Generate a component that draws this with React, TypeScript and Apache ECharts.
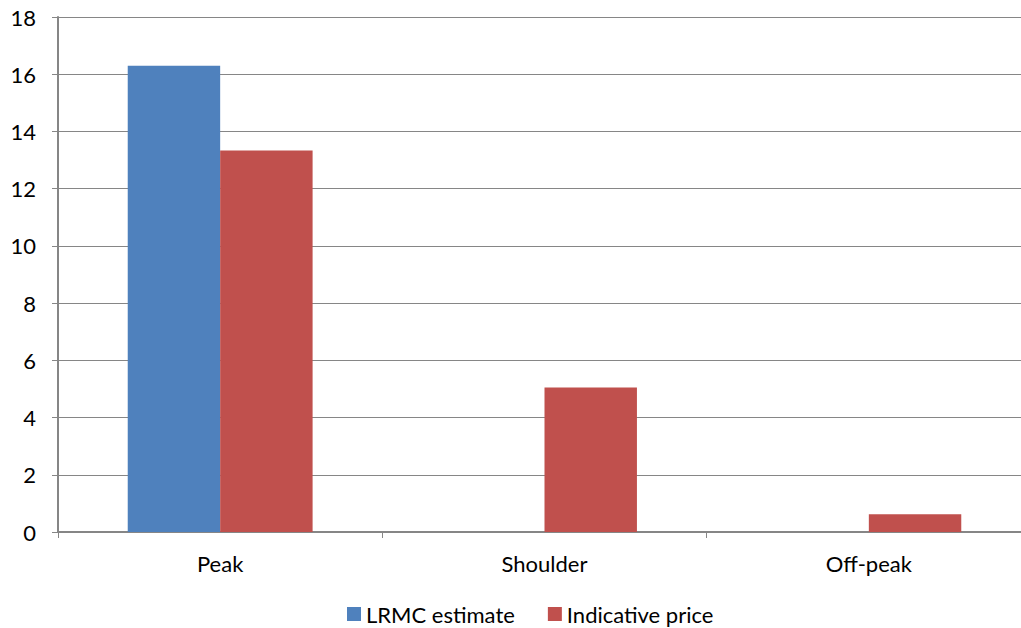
import React, { useEffect, useRef } from "react";
import * as echarts from "echarts";

const categories = ["Peak", "Shoulder", "Off-peak"];
const lrmcEstimate = [16.3, 0, 0];
const indicativePrice = [13.33, 5.05, 0.62];
const seriesNames = ["LRMC estimate", "Indicative price"];
const yMin = 0;
const yMax = 18;
const yInterval = 2;

export default function App() {
  const ref = useRef<HTMLDivElement>(null);
  useEffect(() => {
    if (!ref.current) return;
    const chart = echarts.init(ref.current, null, { renderer: "svg" });
    const font = "Lato, 'Open Sans', sans-serif";
    chart.setOption({
      animation: false,
      backgroundColor: "#ffffff",
      textStyle: { fontFamily: font },
      grid: {
        left: 58,
        right: -10,
        top: 17,
        bottom: 96,
        containLabel: false,
        outerBoundsMode: "none",
      },
      legend: {
        bottom: -2,
        left: 342,
        itemWidth: 14,
        itemHeight: 14,
        itemGap: 33,
        icon: "rect",
        textStyle: { fontSize: 22, color: "#000", fontFamily: font },
        data: seriesNames,
      },
      xAxis: {
        type: "category",
        data: categories,
        axisLine: { lineStyle: { color: "#868686", width: 2 } },
        axisTick: { show: true, length: 6, lineStyle: { color: "#868686" } },
        axisLabel: { fontSize: 22, color: "#000", margin: 20, fontFamily: font },
      },
      yAxis: {
        type: "value",
        min: yMin,
        max: yMax,
        interval: yInterval,
        axisLine: { show: true, lineStyle: { color: "#868686", width: 2 } },
        axisTick: { show: true, length: 6, lineStyle: { color: "#868686" } },
        axisLabel: { fontSize: 22, color: "#000", margin: 22, fontFamily: font },
        splitLine: { lineStyle: { color: "#868686", width: 1 } },
      },
      series: [
        {
          name: seriesNames[0],
          type: "bar",
          data: lrmcEstimate,
          itemStyle: { color: "#4F81BD" },
          barGap: "0%",
          barCategoryGap: "43%",
        },
        {
          name: seriesNames[1],
          type: "bar",
          data: indicativePrice,
          itemStyle: { color: "#C0504D" },
          barGap: "0%",
          barCategoryGap: "43%",
        },
      ],
    });
    return () => chart.dispose();
  }, []);
  return (
    <div
      ref={ref}
      style={{ position: "fixed", left: 0, top: 0, width: 1021, height: 628 }}
    />
  );
}
